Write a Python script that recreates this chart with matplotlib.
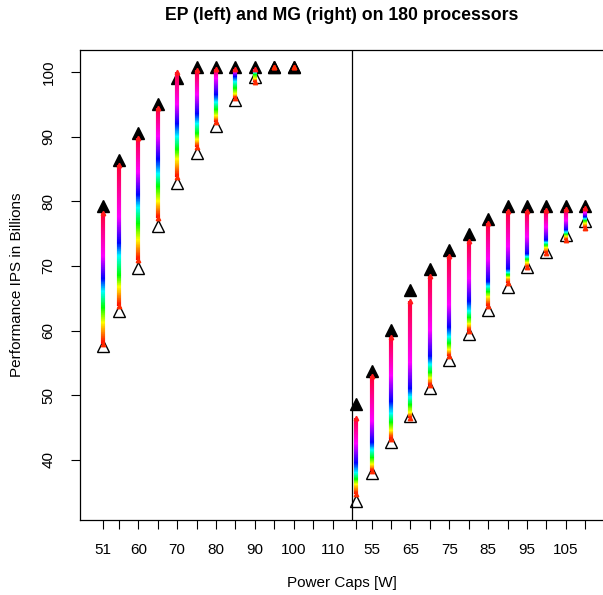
import numpy as np
import matplotlib
matplotlib.use("Agg")
import matplotlib.pyplot as plt
from matplotlib.collections import LineCollection
from matplotlib.colors import hsv_to_rgb

plt.rcParams["font.family"] = ["Liberation Sans", "DejaVu Sans"]

# power caps, same set for both benchmarks
caps = [51, 55, 60, 65, 70, 75, 80, 85, 90, 95, 100, 105, 110]
ep_caps = [51, 55, 60, 65, 70, 75, 80, 85, 90, 95, 100]
mg_caps = caps

# black filled triangle (upper) / open triangle (lower)
ep_max = [79.3, 86.4, 90.6, 95.1, 99.1, 100.8, 100.8, 100.8, 100.8, 100.8, 100.8]
ep_min = [57.6, 63.0, 69.7, 76.1, 82.8, 87.5, 91.7, 95.6, 99.2, 100.8, 100.8]
mg_max = [48.7, 53.8, 60.1, 66.2, 69.6, 72.5, 75.0, 77.3, 79.2, 79.2, 79.2, 79.2, 79.2]
mg_min = [33.6, 37.9, 42.7, 46.8, 51.1, 55.5, 59.4, 63.2, 66.8, 69.8, 72.2, 74.8, 77.0]

# per-column values where the rainbow reaches red, yellow, green, cyan, blue, magenta, top
ep_stops = [
    [58.0, 61.2, 63.5, 66.0, 68.0, 71.5, 78.2],
    [63.8, 66.7, 68.5, 71.5, 73.5, 77.5, 85.6],
    [70.9, 74.0, 76.5, 79.0, 81.0, 84.5, 89.8],
    [77.4, 80.0, 82.3, 84.2, 86.5, 90.0, 94.4],
    [83.8, 86.5, 88.0, 90.0, 92.0, 95.0, 100.0],
    [88.4, 89.5, 90.5, 92.0, 93.5, 96.5, 100.3],
    [92.3, 93.2, 94.2, 95.3, 96.5, 99.0, 100.4],
    [96.0, 96.6, 97.5, 98.5, 99.3, 100.0, 100.4],
    [98.5, 99.0, 99.6, 99.9, 100.1, 100.3, 100.5],
    [100.8, 100.8, 100.8, 100.8, 100.8, 100.8, 100.8],
    [100.8, 100.8, 100.8, 100.8, 100.8, 100.8, 100.8],
]
mg_stops = [
    [34.7, 36.2, 37.0, 38.0, 39.5, 42.5, 46.5],
    [38.3, 39.3, 40.3, 41.5, 42.7, 46.0, 53.0],
    [43.3, 44.5, 45.8, 47.2, 49.0, 53.0, 59.0],
    [46.5, 47.3, 48.5, 49.7, 51.0, 55.0, 64.5],
    [51.6, 52.6, 53.5, 54.7, 56.0, 60.0, 68.5],
    [56.0, 57.0, 58.0, 59.0, 60.5, 64.0, 71.5],
    [60.0, 61.0, 62.0, 63.0, 64.5, 68.0, 73.8],
    [63.8, 65.2, 66.0, 66.8, 67.6, 71.0, 76.7],
    [67.4, 68.2, 68.6, 69.0, 69.5, 73.0, 78.5],
    [69.8, 70.5, 71.0, 71.4, 71.9, 74.5, 78.5],
    [72.0, 72.8, 73.2, 73.6, 74.0, 76.0, 78.6],
    [74.0, 74.6, 74.9, 75.2, 75.6, 77.0, 78.8],
    [75.9, 76.6, 77.0, 77.3, 77.6, 78.2, 79.0],
]
stop_hues = [0, 1/6, 1/3, 1/2, 2/3, 5/6, 0.97]

left_labels  = ["51", "", "60", "", "70", "", "80", "", "90", "", "100", "", "110"]
right_labels = ["", "55", "", "65", "", "75", "", "85", "", "95", "", "105", ""]

MG_SHIFT = 65
DIVIDER = 115

fig = plt.figure(figsize=(6.03, 5.95), dpi=100)
ax = fig.add_axes([80/603, 75/595, 528.6/603, 470/595])


def strip(x, stops):
    stops = np.asarray(stops)
    if stops[-1] - stops[0] < 0.05:
        return
    ys = np.linspace(stops[0], stops[-1], 200)
    hues = np.interp(ys, stops, stop_hues)
    cols = hsv_to_rgb(np.column_stack([hues, np.ones_like(hues), np.ones_like(hues)]))
    segs = [[(x, ys[i]), (x, ys[i + 1])] for i in range(len(ys) - 1)]
    ax.add_collection(LineCollection(segs, colors=cols[:-1], linewidths=3.0,
                                     capstyle="butt", zorder=3))


for xs, mx, mn, st in [(ep_caps, ep_max, ep_min, ep_stops),
                       ([c + MG_SHIFT for c in mg_caps], mg_max, mg_min, mg_stops)]:
    ax.plot(xs, mx, "^", color="black", ms=8, zorder=2)
    ax.plot(xs, mn, "^", mfc="none", mec="black", mew=1.0, ms=8, zorder=2)
    for x, s in zip(xs, st):
        strip(x, s)
    tops = [s[-1] for s in st]
    bots = [s[0] for s in st]
    ax.plot(xs, tops, "^", color="#ff1a1a", ms=3.2, zorder=4)
    ax.plot(xs, bots, "^", color="#ff2a00", ms=3.2, zorder=4)

ax.axvline(DIVIDER, color="black", lw=0.9, zorder=5)

ax.set_xlim(45, 181)
ax.set_ylim(30.7, 103.4)
ax.set_xticks(caps + [c + MG_SHIFT for c in caps])
ax.set_xticklabels(left_labels + right_labels)
ax.set_yticks([40, 50, 60, 70, 80, 90, 100])
ax.set_yticklabels(["40", "50", "60", "70", "80", "90", "100"], rotation=90, va="center")
ax.tick_params(axis="x", length=6.5, width=0.8, labelsize=11, pad=10)
ax.tick_params(axis="y", length=6.5, width=0.8, labelsize=11, pad=11)
for sp in ax.spines.values():
    sp.set_linewidth(0.9)

fig.text(342/603, 1 - 15/595, "EP (left) and MG (right) on 180 processors",
         ha="center", va="center", fontsize=12.7, fontweight="bold")
fig.text(342/603, 1 - 583/595, "Power Caps [W]", ha="center", va="center", fontsize=11)
fig.text(17/603, 1 - 285/595, "Performance IPS in Billions", ha="center", va="center",
         rotation=90, fontsize=11)

fig.savefig("out.png", dpi=100)
